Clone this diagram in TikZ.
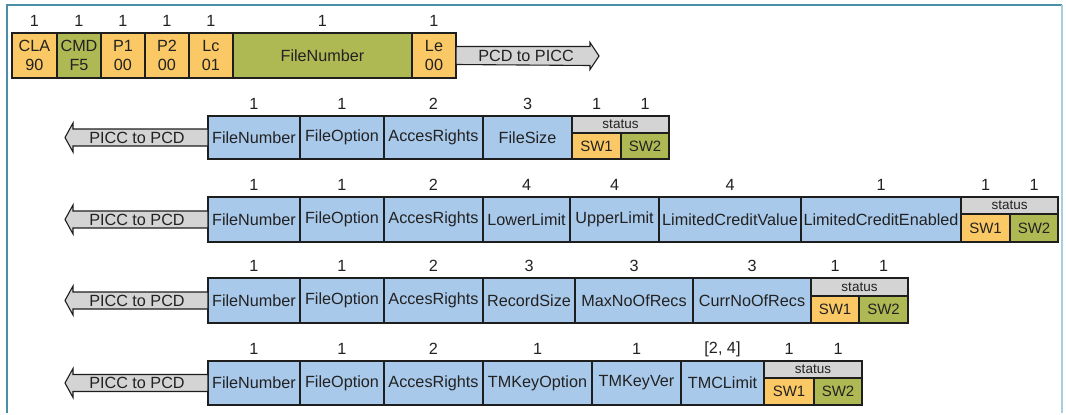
\documentclass[tikz,border=0pt]{standalone}
\usepackage{fontspec}
\setmainfont{Liberation Sans}
\definecolor{cor}{HTML}{FAC864}
\definecolor{cgr}{HTML}{AFB954}
\definecolor{cbl}{HTML}{A9C9EB}
\definecolor{cgy}{HTML}{D4D4D4}
\definecolor{cfr}{HTML}{4A8FA8}
\definecolor{cfrl}{HTML}{A8CFE0}
\definecolor{cln}{HTML}{1E1E1E}
\definecolor{ctx}{HTML}{222222}
\tikzset{
  field/.style={draw=cln,line width=1.4pt,inner sep=0pt,outer sep=0pt,text=ctx,
    font=\fontsize{16.2}{18.5}\selectfont,align=center},
  sz/.style={inner sep=0pt,text=ctx,font=\fontsize{16.2}{18.5}\selectfont},
  sthead/.style={field,fill=cgy,font=\fontsize{13.5}{15}\selectfont},
  swbox/.style={field,font=\fontsize{15}{16}\selectfont},
  barrow/.style={draw=cln,fill=cgy,line width=1.1pt,line join=miter},
  atext/.style={inner sep=0pt,text=ctx,font=\fontsize{16.2}{18.5}\selectfont},
  frame/.style={line width=1.3pt},
}
% name, x1, x2, ytop, ybot, style, text, size label
\newcommand\fieldat[8]{%
  \node[field,#6,minimum width={(#3-#2)*1pt},minimum height={(#5-#4)*1pt}] (#1) at ({(#2+#3)/2},{(#4+#5)/2}) {#7};
  \node[sz] (#1-s) at ([yshift=12pt]#1.north) {#8};}
% name, x1, xm, x2, ytop, ymid, ybot
\newcommand\statusat[7]{%
  \node[sthead,minimum width={(#4-#2)*1pt},minimum height={(#6-#5)*1pt}] (#1-h) at ({(#2+#4)/2},{(#5+#6)/2}) {status};
  \node[swbox,fill=cor,minimum width={(#3-#2)*1pt},minimum height={(#7-#6)*1pt}] (#1-a) at ({(#2+#3)/2},{(#6+#7)/2}) {SW1};
  \node[swbox,fill=cgr,minimum width={(#4-#3)*1pt},minimum height={(#7-#6)*1pt}] (#1-b) at ({(#3+#4)/2},{(#6+#7)/2}) {SW2};
  \node[sz] (#1-as) at ({(#2+#3)/2},{#5-12}) {1};
  \node[sz] (#1-bs) at ({(#3+#4)/2},{#5-12}) {1};}
% name, attached node
\newcommand\leftarr[2]{%
  \draw[barrow] ([yshift=8.5pt]#2.west) -- ++(-135,0) -- ++(0,-6) -- ++(-8,14.5) -- ++(8,14.5) -- ++(0,-6) -- ([yshift=-8.5pt]#2.west) -- cycle;
  \node[atext] (#1) at ([xshift=-71pt]#2.west) {PICC to PCD};}
\begin{document}
\begin{tikzpicture}[x=1pt,y=-1pt]
\useasboundingbox (0,0) rectangle (1066,415);
% frame
\draw[frame,cfr] (7,413) coordinate (fbl) -- (7,5) coordinate (ftl) -- (1062,5) coordinate (ftr);
\draw[frame,cfrl] (ftr) -- (1062,413) coordinate (fbr);

% Row 1: command
\fieldat{cla}{12}{57}{33}{78}{fill=cor}{CLA\\90}{1}
\fieldat{cmd}{57}{101}{33}{78}{fill=cgr}{CMD\\F5}{1}
\fieldat{pa}{101}{145}{33}{78}{fill=cor}{P1\\00}{1}
\fieldat{pb}{145}{189}{33}{78}{fill=cor}{P2\\00}{1}
\fieldat{lc}{189}{233}{33}{78}{fill=cor}{Lc\\01}{1}
\fieldat{fnr}{233}{412}{33}{78}{fill=cgr}{FileNumber}{1}
\fieldat{le}{412}{456}{33}{78}{fill=cor}{Le\\00}{1}
\draw[barrow] ([yshift=9pt]le.east) -- ++(134,0) -- ++(0,-4) -- ++(9,13.5) -- ++(-9,13.5) -- ++(0,-4) -- ([yshift=-9pt]le.east) -- cycle;
\node[atext] (pcdpicc) at ([xshift=70pt]le.east) {PCD to PICC};

% Row 2
\fieldat{fnb}{208}{300}{116}{159}{fill=cbl}{FileNumber}{1}
\fieldat{fob}{300}{384}{116}{159}{fill=cbl}{FileOption}{1}
\fieldat{arb}{384}{483}{116}{159}{fill=cbl}{AccesRights}{2}
\fieldat{fsb}{483}{572}{116}{159}{fill=cbl}{FileSize}{3}
\statusat{stb}{572}{621}{669}{116}{133}{159}
\leftarr{ab}{fnb}

% Row 3
\fieldat{fnc}{208}{300}{197}{242}{fill=cbl}{FileNumber}{1}
\fieldat{foc}{300}{384}{197}{242}{fill=cbl}{FileOption}{1}
\fieldat{arc}{384}{483}{197}{242}{fill=cbl}{AccesRights}{2}
\fieldat{llc}{483}{570}{197}{242}{fill=cbl}{LowerLimit}{4}
\fieldat{ulc}{570}{659}{197}{242}{fill=cbl}{UpperLimit}{4}
\fieldat{lcv}{659}{801}{197}{242}{fill=cbl}{LimitedCreditValue}{4}
\fieldat{lce}{801}{961}{197}{242}{fill=cbl}{LimitedCreditEnabled}{1}
\statusat{stc}{961}{1010}{1058}{197}{214}{242}
\leftarr{ac}{fnc}

% Row 4
\fieldat{fnd}{208}{300}{278}{323}{fill=cbl}{FileNumber}{1}
\fieldat{fod}{300}{384}{278}{323}{fill=cbl}{FileOption}{1}
\fieldat{ard}{384}{483}{278}{323}{fill=cbl}{AccesRights}{2}
\fieldat{rsd}{483}{575}{278}{323}{fill=cbl}{RecordSize}{3}
\fieldat{mnd}{575}{693}{278}{323}{fill=cbl}{MaxNoOfRecs}{3}
\fieldat{cnd}{693}{811}{278}{323}{fill=cbl}{CurrNoOfRecs}{3}
\statusat{std}{811}{859}{908}{278}{296}{323}
\leftarr{ad}{fnd}

% Row 5
\fieldat{fne}{208}{300}{361}{405}{fill=cbl}{FileNumber}{1}
\fieldat{foe}{300}{384}{361}{405}{fill=cbl}{FileOption}{1}
\fieldat{are}{384}{483}{361}{405}{fill=cbl}{AccesRights}{2}
\fieldat{tko}{483}{592}{361}{405}{fill=cbl}{TMKeyOption}{1}
\fieldat{tkv}{592}{681}{361}{405}{fill=cbl}{TMKeyVer}{1}
\fieldat{tcl}{681}{764}{361}{405}{fill=cbl}{TMCLimit}{[2, 4]}
\statusat{ste}{764}{814}{862}{361}{378}{405}
\leftarr{ae}{fne}
\end{tikzpicture}
\end{document}
